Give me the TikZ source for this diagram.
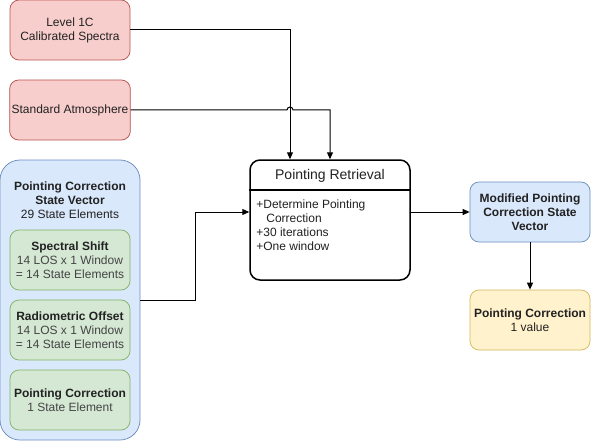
\documentclass[tikz,border=0pt]{standalone}
\usepackage{fontspec}
\setmainfont{Liberation Sans}
\usetikzlibrary{arrows.meta,positioning}
\definecolor{redfill}{HTML}{F8CECC}
\definecolor{redline}{HTML}{B85450}
\definecolor{bluefill}{HTML}{DAE8FC}
\definecolor{blueline}{HTML}{6C8EBF}
\definecolor{greenfill}{HTML}{D5E8D4}
\definecolor{greenline}{HTML}{82B366}
\definecolor{yellowfill}{HTML}{FFF2CC}
\definecolor{yellowline}{HTML}{D6B656}
\definecolor{txt}{HTML}{222222}
\definecolor{subtxt}{HTML}{444444}
\tikzset{every picture/.style={line width=0.75pt}}
\tikzset{
  box/.style={draw, rounded corners=9pt, minimum width=120pt, minimum height=60pt,
    align=center, inner sep=2pt, font=\fontsize{12}{14}\selectfont, text=txt},
  redbox/.style={box, fill=redfill, draw=redline},
  bluebox/.style={box, fill=bluefill, draw=blueline},
  greenbox/.style={box, fill=greenfill, draw=greenline},
  yellowbox/.style={box, fill=yellowfill, draw=yellowline},
  retbox/.style={draw=black, fill=white, line width=1.5pt, rounded corners=10pt,
    minimum width=160pt, minimum height=120pt},
  label/.style={align=left, inner sep=0pt, font=\fontsize{12}{14}\selectfont, text=txt},
  arr/.style={-{Triangle[length=7pt,width=6pt]}, line width=1pt},
}

\begin{document}
\begin{tikzpicture}[x=1pt,y=-1pt]
    \useasboundingbox (0,0) rectangle (591,441);

    % inputs
    \node[redbox] (l1c) at (70,30) {Level 1C\\Calibrated Spectra};
    \node[redbox] (std) at (70,110) {Standard Atmosphere};

    % state vector
    \node[bluebox, minimum width=140pt, minimum height=280pt, rounded corners=20pt] (pcsv) at (70,300) {};
    \node[label, align=center] (pcsvtitle) at (70,200) {\textbf{Pointing Correction}\\\textbf{State Vector}\\29 State Elements};
    \node[greenbox] (shift) at (70,260) {\textbf{Spectral Shift}\\\textcolor{subtxt}{14 LOS x 1 Window}\\\textcolor{subtxt}{= 14 State Elements}};
    \node[greenbox] (offset) at (70,330) {\textbf{Radiometric Offset}\\\textcolor{subtxt}{14 LOS x 1 Window}\\\textcolor{subtxt}{= 14 State Elements}};
    \node[greenbox] (corr) at (70,400) {\textbf{Pointing Correction}\\\textcolor{subtxt}{1 State Element}};

    % retrieval
    \node[retbox] (ret) at (330,220) {};
    \node[label, font=\fontsize{14}{16}\selectfont] (rettitle) at (330,176) {Pointing Retrieval};
    \draw[line width=1.5pt] (ret.west |- 0,190) -- (ret.east |- 0,190);
    \node[label, anchor=north west] (retbody) at (256,199) {+Determine Pointing\\\hspace*{10pt}Correction\\+30 iterations\\+One window};

    % outputs
    \node[bluebox] (mod) at (530,212) {\textbf{Modified Pointing}\\\textbf{Correction State}\\\textbf{Vector}};
    \node[yellowbox] (pc) at (530,320) {\textbf{Pointing Correction}\\1 value};

    % connectors
    \draw[arr] (l1c.east) -| ([xshift=-40pt]ret.north);
    \draw[arr] (std.east) -- (287,110) arc[start angle=180, end angle=0, radius=3pt] -| (ret.north);
    \draw[arr] (pcsv.east) -- (195,300) |- ([yshift=8pt]ret.west);
    \draw[arr] ([yshift=8pt]ret.east) -- (mod.west);
    \draw[arr] (mod.south) -- (pc.north);
\end{tikzpicture}
\end{document}
